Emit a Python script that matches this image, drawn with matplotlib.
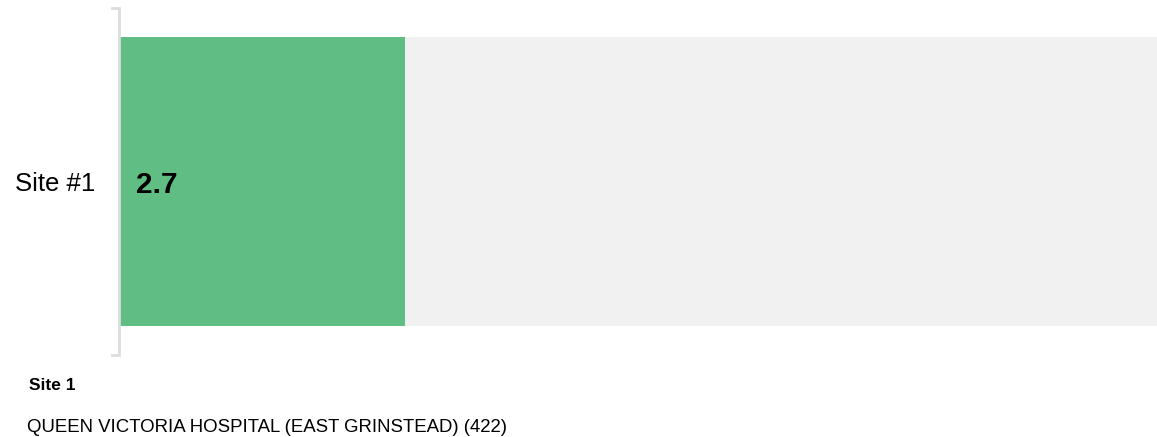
import matplotlib
matplotlib.use('Agg')
import matplotlib.pyplot as plt

plt.rcParams['font.family'] = ['Liberation Sans', 'DejaVu Sans']

# %%
sites = ['Site #1']
scores = [2.7]
score_max = 10
site_title = 'Site 1'
site_name = 'QUEEN VICTORIA HOSPITAL (EAST GRINSTEAD) (422)'

green = '#60be84'
track = '#f1f1f1'
bracket = '#dddddd'

# %%
W, H = 1157, 437
px = 1055  # track length in pixels (runs past the right edge)
fig = plt.figure(figsize=(W/100, H/100), dpi=100)
# axes box in pixels: x 120..1175, y 8..355 from top
ax = fig.add_axes([120/W, 1-355/H, px/W, 347/H])
bar_h = 289/347
ax.barh(sites, [score_max]*len(sites), height=bar_h, color=track, left=0)
ax.barh(sites, scores, height=bar_h, color=green, left=0)
ax.set_xlim(0, score_max)
ax.set_ylim(-0.5, 0.5)
ax.axis('off')

u = score_max/px  # one pixel in data units
for i, (s, v) in enumerate(zip(sites, scores)):
    ax.text(16*u, i, f'{v}', fontsize=21.5, fontweight='bold', va='center_baseline', ha='left')
    ax.text(-25*u, i, s, fontsize=18.5, va='center_baseline', ha='right')

# bracket on the left of the bar
ax.plot([-8*u, -1*u, -1*u, -8*u], [0.5, 0.5, -0.5, -0.5], color=bracket, lw=2,
        clip_on=False, solid_joinstyle='miter')

fig.text(29/W, 1-384/H, site_title, fontsize=12.5, fontweight='bold', va='center_baseline')
fig.text(27/W, 1-426/H, site_name, fontsize=13.45, va='center_baseline')

fig.savefig('out.png', dpi=100)
